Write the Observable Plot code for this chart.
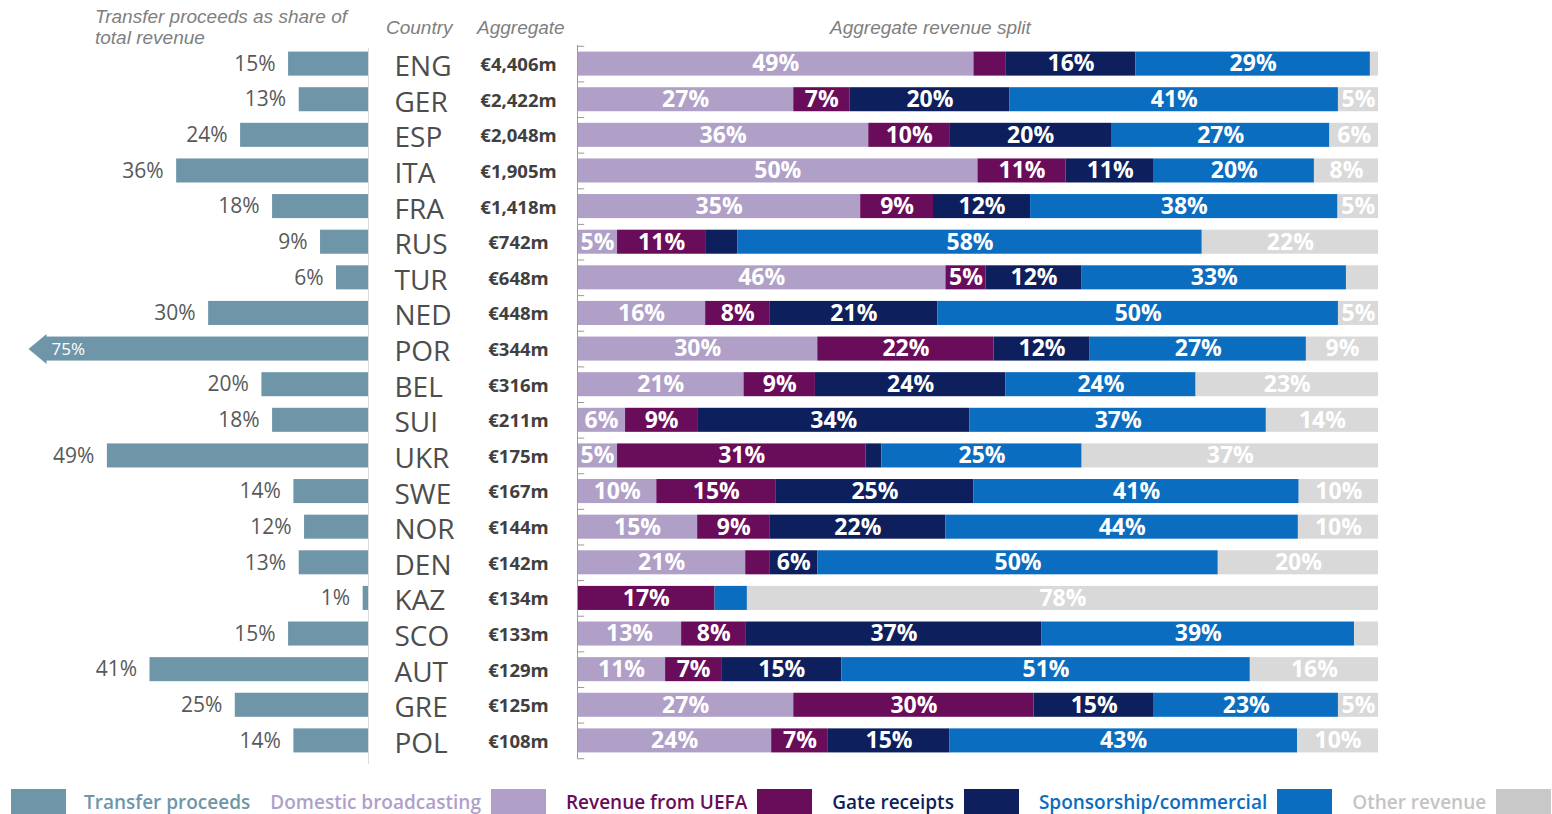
<!DOCTYPE html>
<html>
<head>
<meta charset="utf-8">
<script src="https://cdn.jsdelivr.net/npm/d3@7"></script>
<script src="https://cdn.jsdelivr.net/npm/@observablehq/plot@0.6"></script>
<style>
  body { margin: 0; background: #fff; }
  #root { position: relative; width: 1552px; height: 814px; overflow: hidden; font-family: "Open Sans", sans-serif; }
  .hdr { position: absolute; font-family: "Liberation Sans", Arial, sans-serif; font-style: italic; font-size: 19px; color: #808080; line-height: 21px; white-space: nowrap; }
  .panel { position: absolute; top: 0; }
  #legend { position: absolute; left: 11px; top: 789px; display: flex; align-items: center; font-family: "Open Sans", sans-serif; font-weight: 600; font-size: 19px; white-space: nowrap; }
  .sw { width: 55px; height: 26px; display: inline-block; flex: none; }
</style>
</head>
<body>
<div id="root"></div>
<script>
// ---------------- data ----------------
const countries = ["ENG","GER","ESP","ITA","FRA","RUS","TUR","NED","POR","BEL","SUI","UKR","SWE","NOR","DEN","KAZ","SCO","AUT","GRE","POL"];
const aggregate = ["€4,406m","€2,422m","€2,048m","€1,905m","€1,418m","€742m","€648m","€448m","€344m","€316m","€211m","€175m","€167m","€144m","€142m","€134m","€133m","€129m","€125m","€108m"];
const transferShare = [15,13,24,36,18,9,6,30,75,20,18,49,14,12,13,1,15,41,25,14];

const series = ["Domestic broadcasting","Revenue from UEFA","Gate receipts","Sponsorship/commercial","Other revenue"];
const domestic    = [49,27,36,50,35, 5,46,16,30,21, 6, 5,10,15,21, 0,13,11,27,24];
const uefa        = [ 4, 7,10,11, 9,11, 5, 8,22, 9, 9,31,15, 9, 3,17, 8, 7,30, 7];
const gate        = [16,20,20,11,12, 4,12,21,12,24,34, 2,25,22, 6, 0,37,15,15,15];
const sponsorship = [29,41,27,20,38,58,33,50,27,24,37,25,41,44,50, 4,39,51,23,43];
const other       = [ 1, 5, 6, 8, 5,22, 4, 5, 9,23,14,37,10,10,20,78, 3,16, 5,10];

const headers = {
  transfer: ["Transfer proceeds as share of", "total revenue"],
  country: "Country",
  aggregate: "Aggregate",
  split: "Aggregate revenue split"
};
const transferName = "Transfer proceeds";

// ---------------- styling ----------------
const transferColor = "#6f96a8";
const seriesColors = ["#b0a0c8", "#690c5a", "#0d1f5d", "#0a6dc0", "#d9d9d9"];
const legendTextColors = ["#b0a0c8", "#690c5a", "#0d1f5d", "#0a6dc0", "#c4c4c4"];

const seriesValues = [domestic, uefa, gate, sponsorship, other];
const split = [];
countries.forEach((c, i) => series.forEach((s, j) => split.push({country: c, series: s, value: seriesValues[j][i]})));
const rows = countries.map((c, i) => ({country: c, share: transferShare[i], aggregate: aggregate[i]}));

const H = 770, MT = 40, MB = 6, PAD = 0.325;
const step = (H - MT - MB) / (countries.length + PAD);
const yOpts = {type: "band", domain: countries, padding: PAD, round: false, axis: null};
const SHOW_MAX = 60.6;   // left bars longer than this are truncated with an arrow
const leftArrow = {draw(ctx) { ctx.moveTo(1, -15); ctx.lineTo(1, 15); ctx.lineTo(-17, 0); ctx.closePath(); }};

const root = document.getElementById("root");

// ---------------- left panel: transfer share ----------------
const left = Plot.plot({
  width: 372, height: H, marginTop: MT, marginBottom: MB, marginLeft: 28, marginRight: 4,
  x: {domain: [0, 63.8], reverse: true, axis: null},
  y: yOpts,
  style: {fontFamily: "Open Sans, sans-serif", background: "transparent"},
  marks: [
    Plot.barX(rows, {y: "country", x1: 0, x2: d => Math.min(d.share, SHOW_MAX), fill: transferColor}),
    Plot.dot(rows.filter(d => d.share > SHOW_MAX), {y: "country", x: () => SHOW_MAX, symbol: leftArrow, fill: transferColor, stroke: "none"}),
    Plot.text(rows.filter(d => d.share <= SHOW_MAX), {y: "country", x: "share", text: d => d.share + "%", textAnchor: "end", dx: -13, fontSize: 21, fill: "#595959"}),
    Plot.text(rows.filter(d => d.share > SHOW_MAX), {y: "country", x: () => SHOW_MAX, text: d => d.share + "%", textAnchor: "start", dx: 6, fontSize: 17, fill: "white"}),
    Plot.ruleX([0], {stroke: "#dcdcdc", insetTop: 8})
  ]
});
left.classList.add("panel"); left.style.left = "0px";
root.appendChild(left);

// ---------------- middle panel: country + aggregate ----------------
const mid = Plot.plot({
  width: 200, height: H, marginTop: MT, marginBottom: MB, marginLeft: 0, marginRight: 0,
  x: {type: "point", domain: ["Country", "Aggregate"], range: [22, 146], padding: 0, axis: null},
  y: yOpts,
  style: {fontFamily: "Open Sans, sans-serif", background: "transparent"},
  marks: [
    Plot.text(rows, {x: () => "Country", y: "country", text: "country", textAnchor: "start", fontSize: 28, fill: "#4d4d4d", dy: 3}),
    Plot.text(rows, {x: () => "Aggregate", y: "country", text: "aggregate", textAnchor: "middle", fontSize: 18.5, fontWeight: 700, fill: "#404040", dy: 1})
  ]
});
mid.classList.add("panel"); mid.style.left = "372px";
root.appendChild(mid);

// ---------------- right panel: revenue split ----------------
const right = Plot.plot({
  width: 820, height: H, marginTop: MT, marginBottom: MB, marginLeft: 7, marginRight: 12,
  x: {domain: [0, 1], axis: null},
  y: yOpts,
  color: {domain: series, range: seriesColors},
  style: {fontFamily: "Open Sans, sans-serif", background: "transparent"},
  marks: [
    Plot.barX(split, Plot.stackX({y: "country", x: "value", fill: "series", offset: "normalize", order: series})),
    Plot.text(split, Plot.stackX({y: "country", x: "value", z: "series", offset: "normalize", order: series,
      text: d => d.value >= 5 ? d.value + "%" : "", fill: "white", fontSize: 23, fontWeight: 700})),
    Plot.ruleX([0], {stroke: "#9a9a9a", insetTop: 5, insetBottom: 6}),
    Plot.ruleY(countries, {y: d => d, x1: 0, x2: 0.009, dy: -step / 2, stroke: "#9a9a9a"}),
    Plot.ruleY(countries.slice(-1), {y: d => d, x1: 0, x2: 0.009, dy: step / 2, stroke: "#9a9a9a"})
  ]
});
right.classList.add("panel"); right.style.left = "570px";
root.appendChild(right);

// ---------------- headers ----------------
function addHeader(lines, leftPx, topPx) {
  const d = document.createElement("div");
  d.className = "hdr";
  d.style.left = leftPx + "px"; d.style.top = topPx + "px";
  d.innerHTML = [].concat(lines).join("<br>");
  root.appendChild(d);
}
addHeader(headers.transfer, 95, 6);
addHeader(headers.country, 386, 17);
addHeader(headers.aggregate, 477, 17);
addHeader(headers.split, 830, 17);

// ---------------- legend ----------------
const legend = document.createElement("div");
legend.id = "legend";
function swatch(color) { const s = document.createElement("span"); s.className = "sw"; s.style.background = color; return s; }
function label(text, color) { const s = document.createElement("span"); s.textContent = text; s.style.color = color; return s; }
{
  const sw = swatch(transferColor); legend.appendChild(sw);
  const lb = label(transferName, transferColor); lb.style.marginLeft = "18px"; legend.appendChild(lb);
}
series.forEach((s, j) => {
  const lb = label(s, legendTextColors[j]); lb.style.marginLeft = "20px"; legend.appendChild(lb);
  const sw = swatch(j === series.length - 1 ? "#c8c8c8" : seriesColors[j]); sw.style.marginLeft = "10px"; legend.appendChild(sw);
});
root.appendChild(legend);
</script>
</body>
</html>
